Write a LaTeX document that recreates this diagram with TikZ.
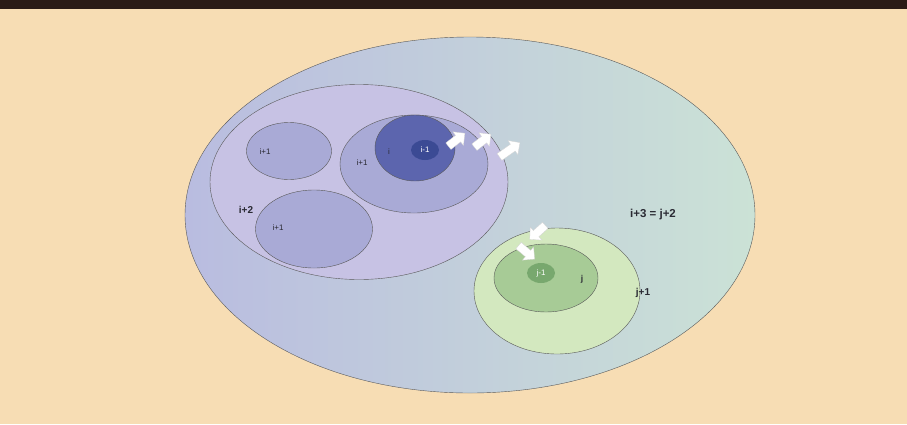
\documentclass[tikz,border=0pt]{standalone}
\usepackage{fontspec}
\setmainfont{Liberation Sans}
\usepackage{tikz}
\usetikzlibrary{shapes.geometric,shapes.arrows}
\definecolor{peachbg}{HTML}{F7DDB4}
\definecolor{topbar}{HTML}{2B1B16}
\definecolor{lavleft}{HTML}{B9BCE0}
\definecolor{mintright}{HTML}{CBE2D6}
\definecolor{lavx}{HTML}{C7C2E4}
\definecolor{bluemid}{HTML}{A9AAD6}
\definecolor{bluedark}{HTML}{5C65AE}
\definecolor{bluedeep}{HTML}{3B4A94}
\definecolor{greenpale}{HTML}{D3E8BF}
\definecolor{greenmid}{HTML}{A7CB96}
\definecolor{greendeep}{HTML}{78A86E}
\definecolor{inkx}{HTML}{2A2A33}
\tikzset{
  set/.style={ellipse,draw=gray!70!black,line width=0.4pt,inner sep=0pt},
  lbl/.style={font=\bfseries\fontsize{11.5}{12}\selectfont,text=inkx},
  tiny/.style={font=\fontsize{8}{9}\selectfont,text=inkx},
  blk/.style={single arrow,fill=white,draw=gray!35,line width=0.3pt,
    minimum height=21pt,inner xsep=0pt,inner ysep=4pt,
    single arrow head extend=4.5pt,single arrow tip angle=90}
}
\begin{document}
\begin{tikzpicture}[x=1pt,y=-1pt]
\useasboundingbox (0,0) rectangle (907,424);
\fill[peachbg] (0,0) rectangle (907,424);
\fill[topbar] (0,0) rectangle (907,9);
% level i+3 = j+2
\node[set,left color=lavleft,right color=mintright,minimum width=570pt,minimum height=356pt] (outer) at (470,215) {};
% the i side
\node[set,fill=lavx,minimum width=298pt,minimum height=195pt] (ip2) at (359,182) {};
\node[set,fill=bluemid,minimum width=85pt,minimum height=57pt] (ipa) at (289,151) {};
\node[set,fill=bluemid,minimum width=117pt,minimum height=78pt] (ipb) at (314,229) {};
\node[set,fill=bluemid,minimum width=148pt,minimum height=98pt] (ipc) at (414,164) {};
\node[set,fill=bluedark,minimum width=80pt,minimum height=66pt] (ii) at (415,148) {};
\node[set,fill=bluedeep,draw=none,minimum width=28pt,minimum height=20pt] (im1) at (425,150) {};
% the j side
\node[set,fill=greenpale,minimum width=166pt,minimum height=126pt] (jp1) at (557,291) {};
\node[set,fill=greenmid,minimum width=104pt,minimum height=68pt] (jj) at (546,278) {};
\node[set,fill=greendeep,draw=none,minimum width=28pt,minimum height=20pt] (jm1) at (541,273) {};
% labels
\node[tiny,text=white] (tim1) at (im1) {i-1};
\node[tiny] (ti) at (389,152) {i};
\node[tiny] (tipc) at (362,163) {i+1};
\node[tiny] (tipa) at (265,152) {i+1};
\node[tiny] (tipb) at (278,228) {i+1};
\node[lbl,font=\bfseries\fontsize{10}{11}\selectfont] (tip2) at (246,210) {i+2};
\node[tiny,text=white] (tjm1) at (jm1) {j-1};
\node[tiny,font=\bfseries\fontsize{8.5}{9}\selectfont] (tj) at (582,279) {j};
\node[lbl,font=\bfseries\fontsize{10}{11}\selectfont] (tjp1) at (643,293) {j+1};
\node[lbl] (ttop) at (653,215) {i+3 = j+2};
% growth arrows
\node[blk,rotate=38] (ga) at (455,141) {};
\node[blk,rotate=38] (gb) at (481,142) {};
\node[blk,rotate=35,minimum height=25pt] (gc) at (508,151) {};
\node[blk,rotate=-138] (gd) at (539,231) {};
\node[blk,rotate=-40] (ge) at (525,251) {};
\end{tikzpicture}
\end{document}
